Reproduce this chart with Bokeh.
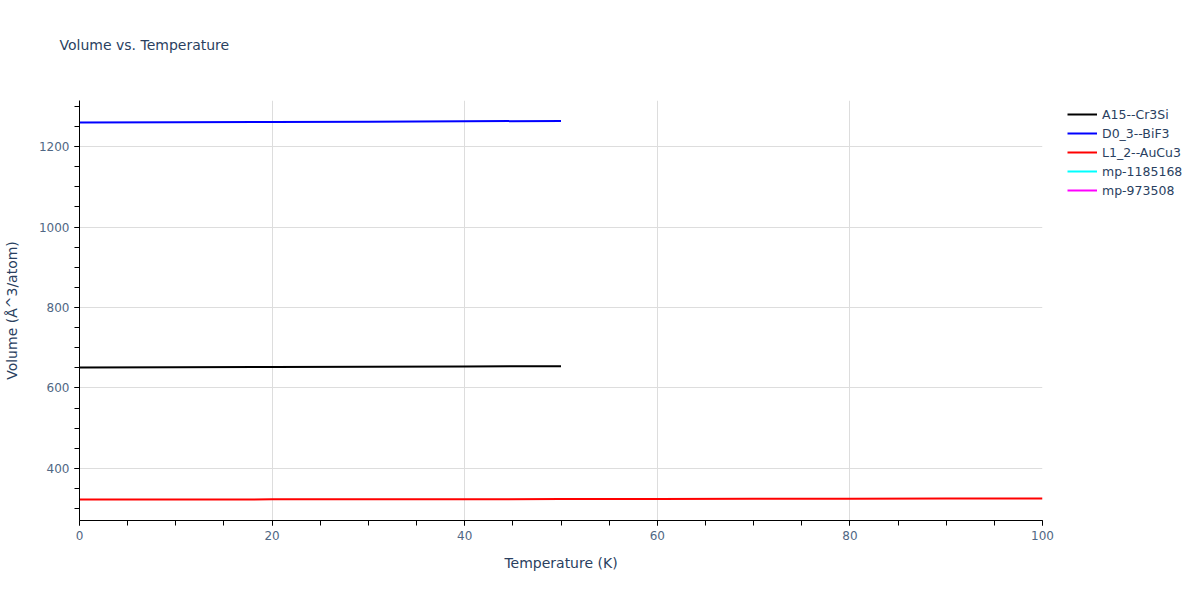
from bokeh.plotting import figure
from bokeh.models import Range1d, SingleIntervalTicker, Legend, LegendItem, Title
from bokeh.embed import file_html
from bokeh.resources import INLINE

nan = float("nan")

# Data
temp_a = [0, 10, 20, 30, 40, 50]
vol_a15 = [651.0, 651.6, 652.2, 652.9, 653.5, 654.2]
temp_d0 = [0, 10, 20, 30, 40, 50]
vol_d03 = [1259.6, 1260.3, 1261.0, 1261.8, 1262.6, 1263.6]
temp_l1 = [0, 10, 20, 30, 40, 50, 60, 70, 80, 90, 100]
vol_l12 = [323.0, 323.1, 323.3, 323.5, 323.8, 324.0, 324.3, 324.6, 324.9, 325.2, 325.5]
# these two series have no visible points in the reference
temp_mp1 = [0, 100]
vol_mp1 = [nan, nan]
temp_mp2 = [0, 100]
vol_mp2 = [nan, nan]

series = [
    ("A15--Cr3Si", temp_a, vol_a15, "black"),
    ("D0_3--BiF3", temp_d0, vol_d03, "blue"),
    ("L1_2--AuCu3", temp_l1, vol_l12, "red"),
    ("mp-1185168", temp_mp1, vol_mp1, "cyan"),
    ("mp-973508", temp_mp2, vol_mp2, "magenta"),
]

FONT = "DejaVu Sans"
TXT = "#2a3f5f"
TICK = "#506784"

p = figure(frame_width=963, frame_height=420, output_backend="svg", toolbar_location=None,
           x_range=Range1d(0, 100), y_range=Range1d(270.8, 1314.3), title=None,
           min_border_left=73, min_border_right=149, min_border_top=100, min_border_bottom=72)

# spacer (closest to the frame) pushes the real title up
spacer = Title(text=" ", text_font=FONT, text_font_size="14px", standoff=28,
               vertical_align="top", offset=-20)
p.add_layout(spacer, "above")
main_title = Title(text="Volume vs. Temperature", text_font=FONT, text_font_size="14px",
                   text_color=TXT, text_font_style="normal", offset=-20,
                   vertical_align="top", standoff=0)
p.add_layout(main_title, "above")

p.outline_line_color = None
p.background_fill_color = "white"

p.xaxis.ticker = SingleIntervalTicker(interval=20, num_minor_ticks=4)
p.yaxis.ticker = SingleIntervalTicker(interval=200, num_minor_ticks=4)
for ax in (p.xaxis[0], p.yaxis[0]):
    ax.axis_line_color = "black"
    ax.axis_line_width = 1
    ax.major_tick_line_color = "black"
    ax.minor_tick_line_color = "black"
    ax.major_tick_out = 5
    ax.major_tick_in = 0
    ax.minor_tick_out = 5
    ax.minor_tick_in = 0
    ax.major_label_text_font = FONT
    ax.major_label_text_font_size = "12px"
    ax.major_label_text_color = TICK
    ax.axis_label_text_font = FONT
    ax.axis_label_text_font_size = "14px"
    ax.axis_label_text_color = TXT
    ax.axis_label_text_font_style = "normal"
p.xaxis.axis_label = "Temperature (K)"
p.yaxis.axis_label = "Volume (Å^3/atom)"
p.xaxis.axis_label_standoff = 12
p.yaxis.axis_label_standoff = 16

p.xgrid.grid_line_color = "#dddddd"
p.ygrid.grid_line_color = "#dddddd"
p.xgrid.ticker = p.xaxis[0].ticker
p.ygrid.ticker = p.yaxis[0].ticker

items = []
for name, xs, ys, color in series:
    r = p.line(xs, ys, line_color=color, line_width=2)
    items.append(LegendItem(label=name, renderers=[r]))

legend = Legend(items=items, location=(25, 321), border_line_color=None,
                background_fill_alpha=0, label_text_font=FONT, label_text_font_size="12.5px",
                label_text_color=TXT, glyph_width=30, spacing=1, padding=2,
                margin=0, label_height=18, glyph_height=18)
p.add_layout(legend, "right")

open("out.html", "w").write(file_html(p, INLINE))
